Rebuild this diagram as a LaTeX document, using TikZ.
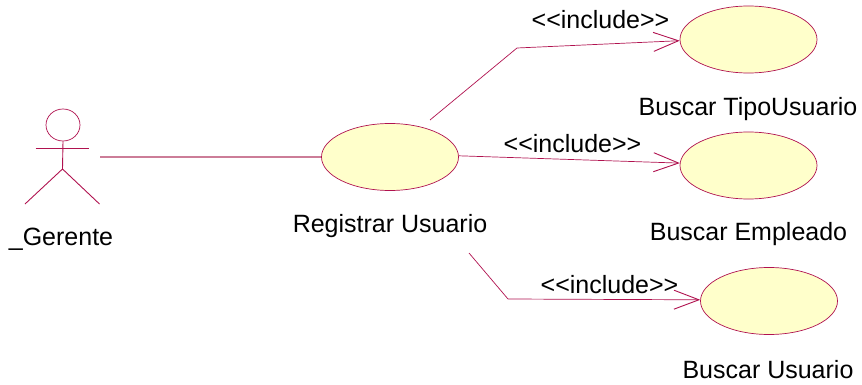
\documentclass[tikz,border=0pt]{standalone}
\usepackage{fontspec}
\setmainfont{Liberation Sans}
\usetikzlibrary{shapes.geometric,arrows.meta}
\definecolor{umlline}{HTML}{B0124F}
\definecolor{umlfill}{HTML}{FFFFCB}
\definecolor{umlassoc}{HTML}{CC7D98}
\tikzset{
  usecase/.style={ellipse,draw=umlline,fill=umlfill,line width=0.7pt,minimum width=137pt,minimum height=67pt,inner sep=0pt},
  actorline/.style={draw=umlline,line width=0.9pt},
  assoc/.style={draw=umlassoc,line width=1.6pt},
  incl/.style={draw=umlline,line width=0.7pt,-{Straight Barb[length=25pt,width=19pt,line width=0.9pt]}},
  lbl/.style={text=black,font=\fontsize{25}{28}\selectfont,inner sep=0pt},
}
\begin{document}
\begin{tikzpicture}[x=1pt,y=-1pt]
\useasboundingbox (0,0) rectangle (862,385);
% actor
\node[ellipse,draw=umlline,line width=0.7pt,minimum width=34pt,minimum height=32pt,inner sep=0pt] (head) at (63,125) {};
\coordinate (hip) at (62.5,169);
\coordinate (armL) at (35.5,148);
\coordinate (armR) at (89,148);
\coordinate (legL) at (25,204);
\coordinate (legR) at (99.5,204);
\coordinate (actorR) at (100,157);
\draw[actorline] (head.south) -- (hip);
\draw[actorline] (armL) -- (armR);
\draw[actorline] (legL) -- (hip) -- (legR);
% use cases
\node[usecase] (reg) at (390,157) {};
\node[usecase] (tipo) at (748.5,39.5) {};
\node[usecase] (emp) at (748.5,165.5) {};
\node[usecase] (usu) at (769,301) {};
% labels
\node[lbl] (lgerente) at (61,239.5) {\_Gerente};
\node[lbl] (lreg) at (390,226) {Registrar Usuario};
\node[lbl] (ltipo) at (748,109) {Buscar TipoUsuario};
\node[lbl] (lemp) at (748.5,234) {Buscar Empleado};
\node[lbl] (lusu) at (768,370) {Buscar Usuario};
\node[lbl] (i1) at (600.5,20) {<{}<include>{}>};
\node[lbl] (i2) at (572.5,144) {<{}<include>{}>};
\node[lbl] (i3) at (609.5,285) {<{}<include>{}>};
% connectors
\coordinate (s1) at (430,120);
\coordinate (b1) at (517,48);
\coordinate (s3) at (469,253);
\coordinate (b3) at (508,299);
\draw[assoc] (actorR) -- (reg.west);
\draw[incl] (s1) -- (b1) -- (tipo.181);
\draw[incl] (reg.1) -- (emp.178);
\draw[incl] (s3) -- (b3) -- (usu.179);
\end{tikzpicture}
\end{document}
